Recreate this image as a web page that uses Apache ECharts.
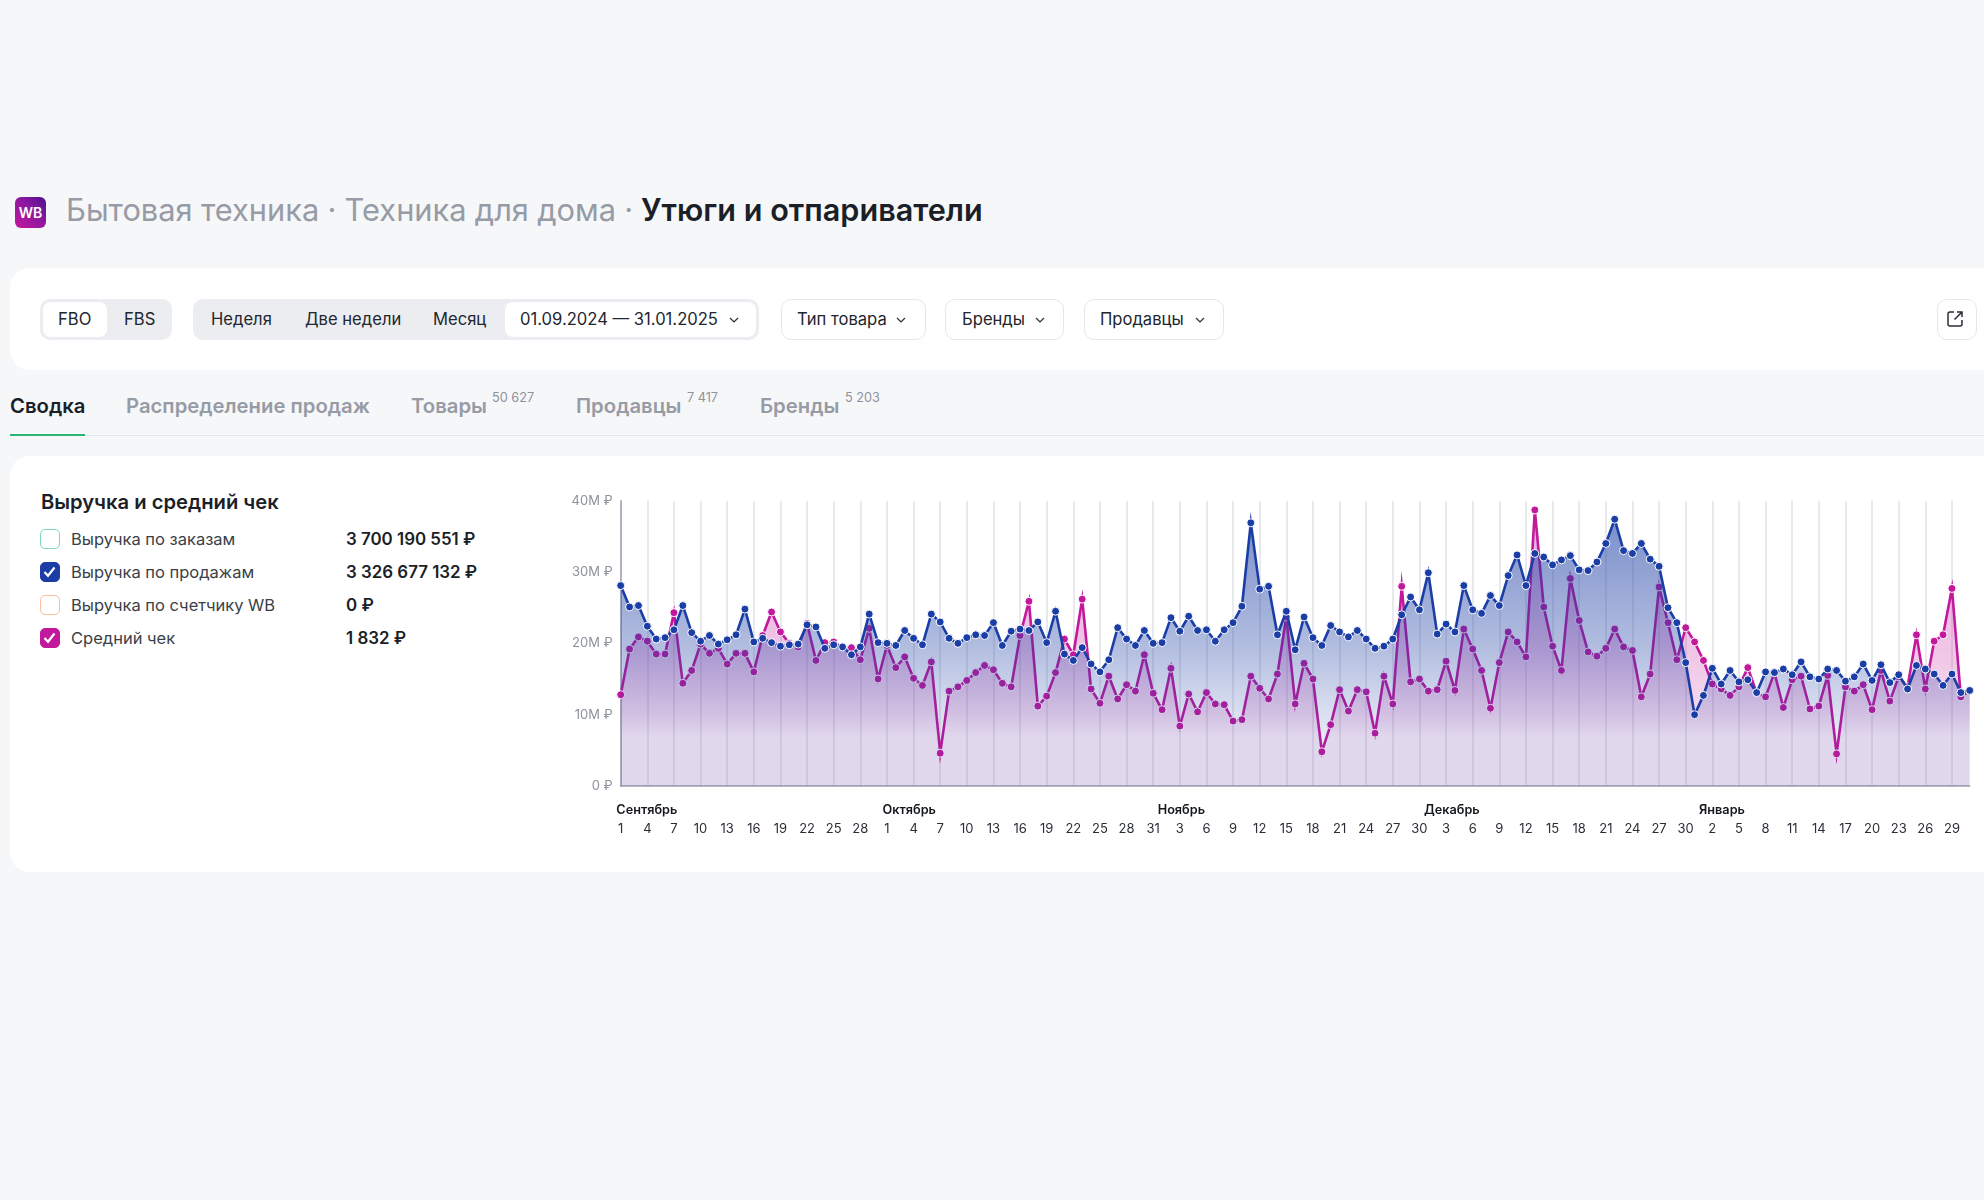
<!DOCTYPE html>
<html lang="ru">
<head>
<meta charset="utf-8">
<title>Утюги и отпариватели</title>
<script src="https://cdn.jsdelivr.net/npm/echarts@6/dist/echarts.min.js"></script>
<style>
html, body { margin: 0; padding: 0; }
body { width: 1984px; height: 1200px; position: relative; overflow: hidden; background: #f6f7f9; font-family: Inter, "Noto Sans", sans-serif; color: #1b1f27; }
.abs { position: absolute; white-space: nowrap; }
.card { position: absolute; background: #fff; left: 10px; right: -20px; border-radius: 20px; }
.logo { left: 15px; top: 197px; width: 31px; height: 31px; border-radius: 6px; background: linear-gradient(45deg, #c2189c 0%, #8f17a0 55%, #4c1190 100%); color: #fff; font-size: 14px; font-weight: 600; line-height: 32px; text-align: center; }
.title { left: 66px; top: 189.5px; font-size: 30.8px; line-height: 40px; color: #969ba5; word-spacing: -0.4px; }
.title b { position: absolute; left: 575px; top: 0; font-size: 30.6px; color: #1b1f27; font-weight: 600; word-spacing: 0; }
.group { background: #ecedf1; border-radius: 10px; top: 299px; height: 41px; }
.active { background: #fff; border-radius: 8px; top: 302px; height: 35px; }
.btn { background: #fff; border: 1px solid #e6e7eb; border-radius: 10px; box-sizing: border-box; top: 299px; height: 41px; }
.ctl { top: 298.5px; line-height: 41px; font-size: 16.6px; color: #22262e; }
.tab { top: 391px; font-size: 20.3px; line-height: 30px; font-weight: 600; color: #969ba5; }
.sup { top: 390px; font-size: 12.7px; line-height: 16px; color: #8d929b; }
.cap { left: 41px; top: 487px; font-size: 20.2px; line-height: 30px; font-weight: 600; }
.box { left: 40px; width: 20px; height: 20px; box-sizing: border-box; border-radius: 5px; border: 1.5px solid; }
.lbl { left: 71px; font-size: 16.5px; line-height: 22px; color: #3a3f48; }
.val { left: 346px; font-size: 16.9px; line-height: 22px; font-weight: 600; }
#chart { position: absolute; left: 560px; top: 470px; width: 1424px; height: 400px; }
</style>
</head>
<body>
<div class="abs logo">WB</div>
<div class="abs title">Бытовая техника · Техника для дома · <b>Утюги и отпариватели</b></div>

<div class="card" style="top:268px;height:102px"></div>
<div class="abs group" style="left:40px;width:132px"></div>
<div class="abs active" style="left:43px;width:64px"></div>
<div class="abs ctl" style="left:58px">FBO</div>
<div class="abs ctl" style="left:124px">FBS</div>
<div class="abs group" style="left:193px;width:566px"></div>
<div class="abs active" style="left:505px;width:251px"></div>
<div class="abs ctl" style="left:211px">Неделя</div>
<div class="abs ctl" style="left:305px">Две недели</div>
<div class="abs ctl" style="left:433px">Месяц</div>
<div class="abs ctl" style="left:520px">01.09.2024 — 31.01.2025</div>
<div class="abs btn" style="left:781px;width:145px"></div>
<div class="abs ctl" style="left:797px">Тип товара</div>
<div class="abs btn" style="left:945px;width:119px"></div>
<div class="abs ctl" style="left:962px">Бренды</div>
<div class="abs btn" style="left:1084px;width:140px"></div>
<div class="abs ctl" style="left:1100px">Продавцы</div>
<svg class="abs" style="left:729px;top:315px" width="10" height="10"><path d="M1 3l4 4 4-4" fill="none" stroke="#2a2e36" stroke-width="1.2"/></svg>
<svg class="abs" style="left:896px;top:315px" width="10" height="10"><path d="M1 3l4 4 4-4" fill="none" stroke="#2a2e36" stroke-width="1.2"/></svg>
<svg class="abs" style="left:1035px;top:315px" width="10" height="10"><path d="M1 3l4 4 4-4" fill="none" stroke="#2a2e36" stroke-width="1.2"/></svg>
<svg class="abs" style="left:1195px;top:315px" width="10" height="10"><path d="M1 3l4 4 4-4" fill="none" stroke="#2a2e36" stroke-width="1.2"/></svg>
<div class="abs btn" style="left:1937px;width:40px"></div>
<svg class="abs" style="left:1946px;top:310px" width="18" height="18"><path d="M8 2H4a2 2 0 0 0-2 2v10a2 2 0 0 0 2 2h10a2 2 0 0 0 2-2v-4M11 2h5v5M16 2L8.5 9.5" fill="none" stroke="#2a2e36" stroke-width="1.5"/></svg>

<div class="abs tab" style="left:10px;color:#1b1f27">Сводка</div>
<div class="abs tab" style="left:126px">Распределение продаж</div>
<div class="abs tab" style="left:411px">Товары</div>
<div class="abs sup" style="left:492px">50 627</div>
<div class="abs tab" style="left:576px">Продавцы</div>
<div class="abs sup" style="left:687px">7 417</div>
<div class="abs tab" style="left:760px">Бренды</div>
<div class="abs sup" style="left:845px">5 203</div>
<div class="abs" style="left:10px;right:0;top:435px;height:1px;background:#e3e5e8"></div>
<div class="abs" style="left:10px;width:75px;top:434px;height:2px;background:#2bb673"></div>

<div class="card" style="top:456px;height:416px"></div>
<div class="abs cap">Выручка и средний чек</div>
<div id="legend"></div>
<div id="chart"></div>

<script>
const MONTH_NAMES = ["Сентябрь", "Октябрь", "Ноябрь", "Декабрь", "Январь"];
const MONTH_DAYS = [30, 31, 30, 31, 31];

const LEGEND_LABELS = ["Выручка по заказам", "Выручка по продажам", "Выручка по счетчику WB", "Средний чек"];
const LEGEND_VALUES = ["3 700 190 551 ₽", "3 326 677 132 ₽", "0 ₽", "1 832 ₽"];

const BLUE = "#1a3ea6";
const MAGENTA = "#c2189c";
const LEGEND_TOPS = [529, 562, 595, 628];
const LEGEND_BOXES = [
    "border-color:#7fd9b0;background:#fff",
    "border-color:" + BLUE + ";background:" + BLUE,
    "border-color:#fbbf9f;background:#fff",
    "border-color:" + MAGENTA + ";background:" + MAGENTA
];
const CHECKED = [false, true, false, true];

// Выручка по продажам, млн ₽
const SALES = [
    28.1, 25.1, 25.3, 22.4, 20.6, 20.8, 21.9, 25.3, 21.5, 20.3,
    21.1, 19.9, 20.5, 21.2, 24.8, 20.2, 20.7, 20.1, 19.6, 19.8,
    19.9, 22.6, 22.3, 19.3, 19.8, 19.5, 18.4, 19.5, 24.1, 20.1,
    20.0, 19.7, 21.8, 20.7, 19.8, 24.1, 23.0, 20.7, 20.0, 20.8,
    21.2, 21.1, 22.9, 19.7, 21.7, 22.0, 21.8, 23.0, 20.1, 24.5,
    18.5, 17.6, 19.4, 17.1, 16.0, 17.7, 22.2, 20.6, 19.7, 21.8,
    20.0, 20.1, 23.6, 21.7, 23.8, 21.8, 21.9, 20.3, 21.9, 22.9,
    25.2, 36.9, 27.6, 28.0, 21.2, 24.5, 19.1, 23.7, 20.8, 19.7,
    22.5, 21.6, 20.9, 21.8, 20.6, 19.3, 19.6, 20.6, 24.0, 26.5,
    24.7, 29.9, 21.3, 22.7, 21.6, 28.1, 24.7, 24.2, 26.7, 25.3,
    29.5, 32.4, 28.1, 32.6, 32.1, 31.0, 31.7, 32.3, 30.3, 30.2,
    31.4, 34.0, 37.4, 33.0, 32.6, 34.0, 31.8, 30.8, 25.0, 22.9,
    17.3, 10.0, 12.7, 16.5, 14.3, 16.2, 14.6, 14.9, 13.1, 16.0,
    15.9, 16.4, 15.6, 17.4, 15.3, 15.0, 16.4, 16.2, 14.7, 15.3,
    17.1, 14.8, 17.0, 14.5, 15.6, 13.6, 16.9, 16.4, 15.7, 14.1,
    15.7, 13.1, 13.4
];

// Средний чек, в масштабе той же оси
const AVG_CHECK = [
    12.8, 19.2, 20.9, 20.3, 18.5, 18.5, 24.3, 14.4, 16.2, 19.9,
    18.6, 19.3, 17.1, 18.6, 18.6, 16.0, 21.1, 24.4, 21.6, 20.0,
    19.5, 22.8, 17.6, 20.1, 20.2, 19.4, 19.4, 17.7, 22.1, 15.0,
    19.7, 16.6, 18.1, 15.1, 14.1, 17.4, 4.6, 13.3, 13.9, 14.8,
    15.9, 16.9, 16.3, 14.4, 13.9, 21.1, 25.9, 11.2, 12.6, 15.9,
    20.6, 18.4, 26.2, 13.6, 11.6, 15.4, 12.2, 14.2, 13.3, 18.4,
    13.0, 10.7, 16.5, 8.4, 12.9, 10.4, 13.1, 11.5, 11.4, 9.1,
    9.3, 15.4, 13.7, 12.2, 15.7, 23.7, 11.5, 17.2, 15.0, 4.8,
    8.6, 13.5, 10.5, 13.5, 13.2, 7.4, 15.4, 11.5, 28.0, 14.6,
    15.0, 13.3, 13.5, 17.5, 13.4, 22.0, 19.2, 16.2, 10.9, 17.3,
    21.6, 20.2, 18.1, 38.7, 25.1, 19.6, 16.2, 29.1, 23.2, 18.8,
    18.2, 19.3, 22.0, 19.5, 19.0, 12.5, 15.7, 27.9, 22.9, 17.7,
    22.2, 20.2, 17.6, 14.3, 13.6, 12.7, 13.9, 16.6, 13.0, 12.5,
    15.9, 11.0, 14.9, 15.4, 10.8, 11.2, 15.5, 4.5, 13.9, 13.3,
    14.2, 10.7, 16.2, 11.9, 15.3, 13.9, 21.2, 13.6, 20.3, 21.2,
    27.7, 12.5, 13.4
];

const days = [];
const monthStarts = {};
MONTH_DAYS.forEach((count, m) => {
    monthStarts[days.length] = MONTH_NAMES[m];
    for (let d = 1; d <= count; d++) {
        days.push(String(d));
    }
});

document.getElementById("legend").innerHTML = LEGEND_LABELS.map((label, i) => {
    const tick = CHECKED[i]
        ? '<svg width="17" height="17" style="display:block"><path d="M3.5 9l3.5 3.8L13.5 4.5" fill="none" stroke="#fff" stroke-width="2.2"/></svg>'
        : "";
    return `<div class="abs box" style="top:${LEGEND_TOPS[i]}px;${LEGEND_BOXES[i]}">${tick}</div>`
        + `<div class="abs lbl" style="top:${LEGEND_TOPS[i] - 1}px">${label}</div>`
        + `<div class="abs val" style="top:${LEGEND_TOPS[i] - 1}px">${LEGEND_VALUES[i]}</div>`;
}).join("");

function fill(rgb, stops) {
    return {
        type: "linear", x: 0, y: 0, x2: 0, y2: 1,
        colorStops: stops.map(s => ({offset: s[0], color: `rgba(${rgb},${s[1]})`}))
    };
}

function lineSeries(name, data, color, z, area) {
    return {
        name, type: "line", data, z,
        xAxisIndex: 0,
        showAllSymbol: true,
        symbol: "circle",
        symbolSize: 8,
        lineStyle: {color, width: 2.6, join: "miter", miterLimit: 12},
        itemStyle: {color, borderColor: "#fff", borderWidth: 1, opacity: 1},
        areaStyle: {color: area, opacity: 1},
        animation: false
    };
}

const chart = echarts.init(document.getElementById("chart"));
chart.setOption({
    animation: false,
    textStyle: {fontFamily: "Inter"},
    grid: {left: 60.7, top: 30.7, width: 1349, height: 285.3},
    xAxis: [
        {
            type: "category", data: days, boundaryGap: false,
            axisLine: {lineStyle: {color: "#9ba1ad", width: 1.5}},
            axisTick: {show: false},
            splitLine: {show: true, interval: i => i % 3 === 0, lineStyle: {color: "#e2e3e7", width: 1.5}},
            axisLabel: {interval: i => i % 3 === 0, margin: 37, fontSize: 13, color: "#2a2e36"}
        },
        {
            type: "category", data: days, boundaryGap: false, position: "bottom",
            axisLine: {show: false}, axisTick: {show: false}, splitLine: {show: false},
            axisLabel: {
                interval: i => i in monthStarts,
                formatter: (v, i) => monthStarts[i] || "",
                align: "left", padding: [0, 0, 0, -4.4],
                margin: 18, fontSize: 12.7, fontWeight: 600, color: "#14171c"
            }
        }
    ],
    yAxis: {
        type: "value", min: 0, max: 40, interval: 10,
        axisLine: {show: true, lineStyle: {color: "#9ba1ad", width: 1.5}},
        axisTick: {show: false},
        splitLine: {show: false},
        axisLabel: {margin: 8, fontSize: 13, color: "#8d929b", formatter: v => v === 0 ? "0 ₽" : v + "M ₽"}
    },
    series: [
        lineSeries("Средний чек", AVG_CHECK, MAGENTA, 3,
            fill("194,24,156", [[0, 0.36], [0.5, 0.25], [0.736, 0.17], [0.82, 0.09], [1, 0.09]])),
        lineSeries("Выручка по продажам", SALES, BLUE, 4,
            fill("29,62,163", [[0, 0.58], [0.48, 0.34], [0.62, 0.24], [0.73, 0.16], [0.82, 0.11], [1, 0.11]]))
    ]
});
</script>
</body>
</html>
